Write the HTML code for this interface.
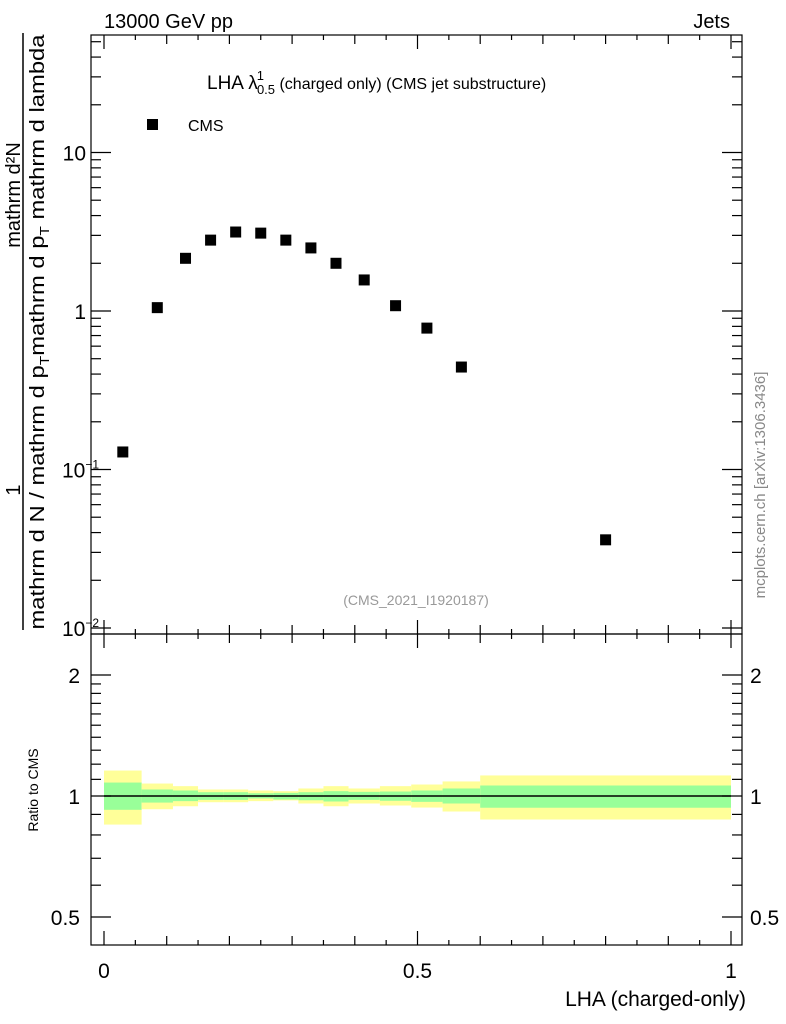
<!DOCTYPE html>
<html><head><meta charset="utf-8"><style>
html,body{margin:0;padding:0;background:#fff;}
svg{display:block;font-family:"Liberation Sans",sans-serif;}
</style></head><body>
<svg id="chart" width="786" height="1024" xmlns="http://www.w3.org/2000/svg">
<g id="bands"></g>
<g id="marks"></g>
<g id="axes"></g>
<text x="104" y="28" font-size="20">13000 GeV pp</text>
<text x="730" y="28" font-size="20" text-anchor="end">Jets</text>
<text x="207" y="89" font-size="19">LHA λ<tspan font-size="13" dy="-9" dx="-1">1</tspan><tspan font-size="13" dy="14" dx="-7">0.5</tspan><tspan dy="-5" font-size="16"> (charged only) (CMS jet substructure)</tspan></text>
<rect x="147" y="119" width="11" height="11" fill="#000"/>
<text x="188" y="131" font-size="16">CMS</text>
<text x="416" y="605" font-size="14" fill="#999" text-anchor="middle">(CMS_2021_I1920187)</text>
<text transform="translate(765,485) rotate(-90)" font-size="15" fill="#888" text-anchor="middle">mcplots.cern.ch [arXiv:1306.3436]</text>
<g font-size="20">
<text transform="translate(20,490) rotate(-90)" text-anchor="middle">1</text>
<text transform="translate(20,195) rotate(-90)" text-anchor="middle">mathrm d²N</text>
<line x1="23" y1="33" x2="23" y2="630" stroke="#000" stroke-width="1.5"/>
<text transform="translate(44,332) rotate(-90)" text-anchor="middle" textLength="595" lengthAdjust="spacingAndGlyphs">mathrm d N / mathrm d p<tspan font-size="13" dy="5">T</tspan><tspan dy="-5">mathrm d p</tspan><tspan font-size="13" dy="5">T</tspan><tspan dy="-5"> mathrm d lambda</tspan></text>
</g>
<text transform="translate(38,790) rotate(-90)" font-size="14" text-anchor="middle">Ratio to CMS</text>
<text x="746" y="1006" font-size="21" text-anchor="end">LHA (charged-only)</text>
</svg>
<script>
const xVals=[0.03,0.085,0.13,0.17,0.21,0.25,0.29,0.33,0.37,0.415,0.465,0.515,0.57,0.8];
const yVals=[0.129,1.05,2.15,2.8,3.15,3.1,2.8,2.5,2.0,1.57,1.08,0.78,0.443,0.036];
const binEdges=[0,0.06,0.11,0.15,0.19,0.23,0.27,0.31,0.35,0.39,0.44,0.49,0.54,0.6,1.0];
const yelUp=[1.157,1.074,1.058,1.038,1.038,1.032,1.028,1.044,1.058,1.044,1.058,1.068,1.087,1.125];
const yelDn=[0.849,0.927,0.943,0.965,0.965,0.971,0.975,0.958,0.943,0.958,0.947,0.936,0.915,0.874];
const grnUp=[1.080,1.038,1.032,1.022,1.022,1.016,1.018,1.022,1.028,1.024,1.026,1.032,1.044,1.062];
const grnDn=[0.924,0.963,0.971,0.978,0.978,0.986,0.980,0.976,0.969,0.978,0.973,0.967,0.958,0.935];
const NS="http://www.w3.org/2000/svg";
const L=91,R=742,T=35,MB=634,RB=945;
const X=v=>104+627*v;
const Y=v=>311-158.5*Math.log10(v);
const RY=v=>796-402*Math.log10(v);
function mk(tag,attrs,parent){const e=document.createElementNS(NS,tag);for(const k in attrs)e.setAttribute(k,attrs[k]);parent.appendChild(e);return e;}
const bands=document.getElementById('bands'),marks=document.getElementById('marks'),axes=document.getElementById('axes');
for(let i=0;i<yelUp.length;i++){
 const x0=X(binEdges[i]),x1=X(binEdges[i+1]);
 const y=mk('rect',{x:x0,y:RY(yelUp[i]),width:x1-x0,height:RY(yelDn[i])-RY(yelUp[i]),fill:'#ffff99'},bands);
 
 
 const g=mk('rect',{x:x0,y:RY(grnUp[i]),width:x1-x0,height:RY(grnDn[i])-RY(grnUp[i]),fill:'#99ff99'},bands);
 
 
}
const ref=mk('line',{x1:X(0),x2:X(1),y1:RY(1),y2:RY(1),stroke:'#000','stroke-width':1.5},bands);


for(let i=0;i<xVals.length;i++){
 const p=mk('rect',{x:X(xVals[i])-5.5,y:Y(yVals[i])-5.5,width:11,height:11,fill:'#000'},marks);
 
 
}
const st={stroke:'#000','stroke-width':1.2,fill:'none'};
mk('rect',Object.assign({x:L,y:T,width:R-L,height:MB-T},st),axes);
mk('rect',Object.assign({x:L,y:MB,width:R-L,height:RB-MB},st),axes);
function tk(x1,y1,x2,y2){mk('line',{x1:x1,y1:y1,x2:x2,y2:y2,stroke:'#000','stroke-width':1.2},axes);}
for(let k=0;k<=20;k++){const v=k/20,x=X(v);const len=(k%10==0)?14:(k%2==0?9:5);
 tk(x,T,x,T+len);tk(x,MB,x,MB-len);tk(x,MB,x,MB+len);tk(x,RB,x,RB-len);}
const xTickLabels=['0','0.5','1'],xTickVals=[0,0.5,1];
xTickVals.forEach((v,i)=>{const t=mk('text',{x:X(v),y:978,'font-size':21,'text-anchor':'middle'},axes);t.textContent=xTickLabels[i];
 
 });
for(let e=-2;e<=1;e++){for(let m=1;m<=9;m++){const v=m*Math.pow(10,e);const y=Y(v);if(y<T||y>MB)continue;
 const len=m==1?20:10;tk(L,y,L+len,y);tk(R,y,R-len,y);}}
const yMajor=[10,1,0.1,0.01];
const yLabelBase=['10','1','10','10'],yLabelExp=['','','−1','−2'];
yMajor.forEach((v,i)=>{const y=Y(v);const t=mk('text',{x:yLabelExp[i]?62:86,y:y+8,'font-size':21,'text-anchor':yLabelExp[i]?'start':'end'},axes);
 t.textContent=yLabelBase[i];
 if(yLabelExp[i]){const s=mk('tspan',{'font-size':12,dy:-9},t);s.textContent=yLabelExp[i];}
 
 });
const rMinor=[0.5,0.6,0.7,0.8,0.9,1,1.1,1.2,1.3,1.4,1.5,1.6,1.7,1.8,1.9,2];
rMinor.forEach(v=>{const y=RY(v);const len=(v==0.5||v==1||v==2)?20:10;tk(L,y,L+len,y);tk(R,y,R-len,y);});
const rLabels=['0.5','1','2'],rVals=[0.5,1,2];
rVals.forEach((v,i)=>{const y=RY(v);
 const a=mk('text',{x:80,y:y+8,'font-size':21,'text-anchor':'end'},axes);a.textContent=rLabels[i];
 
 
 const b=mk('text',{x:750,y:y+8,'font-size':21},axes);b.textContent=rLabels[i];
 
 });
</script>
</body></html>
